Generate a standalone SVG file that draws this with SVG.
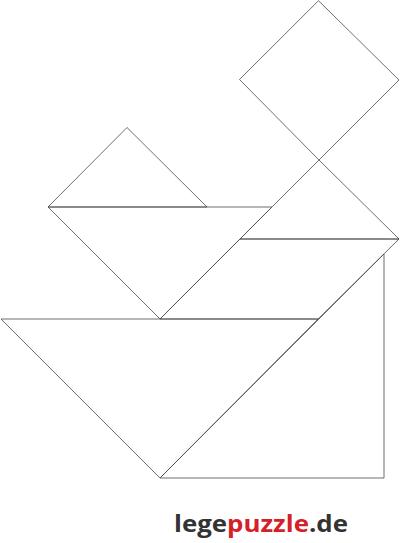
<svg xmlns="http://www.w3.org/2000/svg" width="400" height="543" viewBox="0 0 400 543">
<style>
.p{fill:none;stroke:#4a4a4a;stroke-width:0.8;stroke-linejoin:miter}
.t{font-family:"Open Sans","Noto Sans",sans-serif;font-weight:700;font-size:23px}
</style>
<rect width="400" height="543" fill="#fff"/>
<g id="square"><polygon class="p" points="318.5,0.7 399,80 319,160 239.5,79.5"/></g>
<g id="small-triangle-1"><polygon class="p" points="48,207 127,127.5 207,207"/></g>
<g id="medium-triangle"><polygon class="p" points="48,207 272,207 160,319"/></g>
<g id="small-triangle-2"><polygon class="p" points="240,239 319,160 399,239"/></g>
<g id="parallelogram"><polygon class="p" points="160,319 240,239 399,239 318,319"/></g>
<g id="large-triangle-1"><polygon class="p" points="1,319 318,319 160,478"/></g>
<g id="large-triangle-2"><polygon class="p" points="160,478 384,478 384,254"/></g>
<g id="logo"><text class="t" x="174" y="532" textLength="174" lengthAdjust="spacingAndGlyphs"><tspan fill="#333">lege</tspan><tspan fill="#d42027">puzzle</tspan><tspan fill="#333">.de</tspan></text></g>
</svg>
